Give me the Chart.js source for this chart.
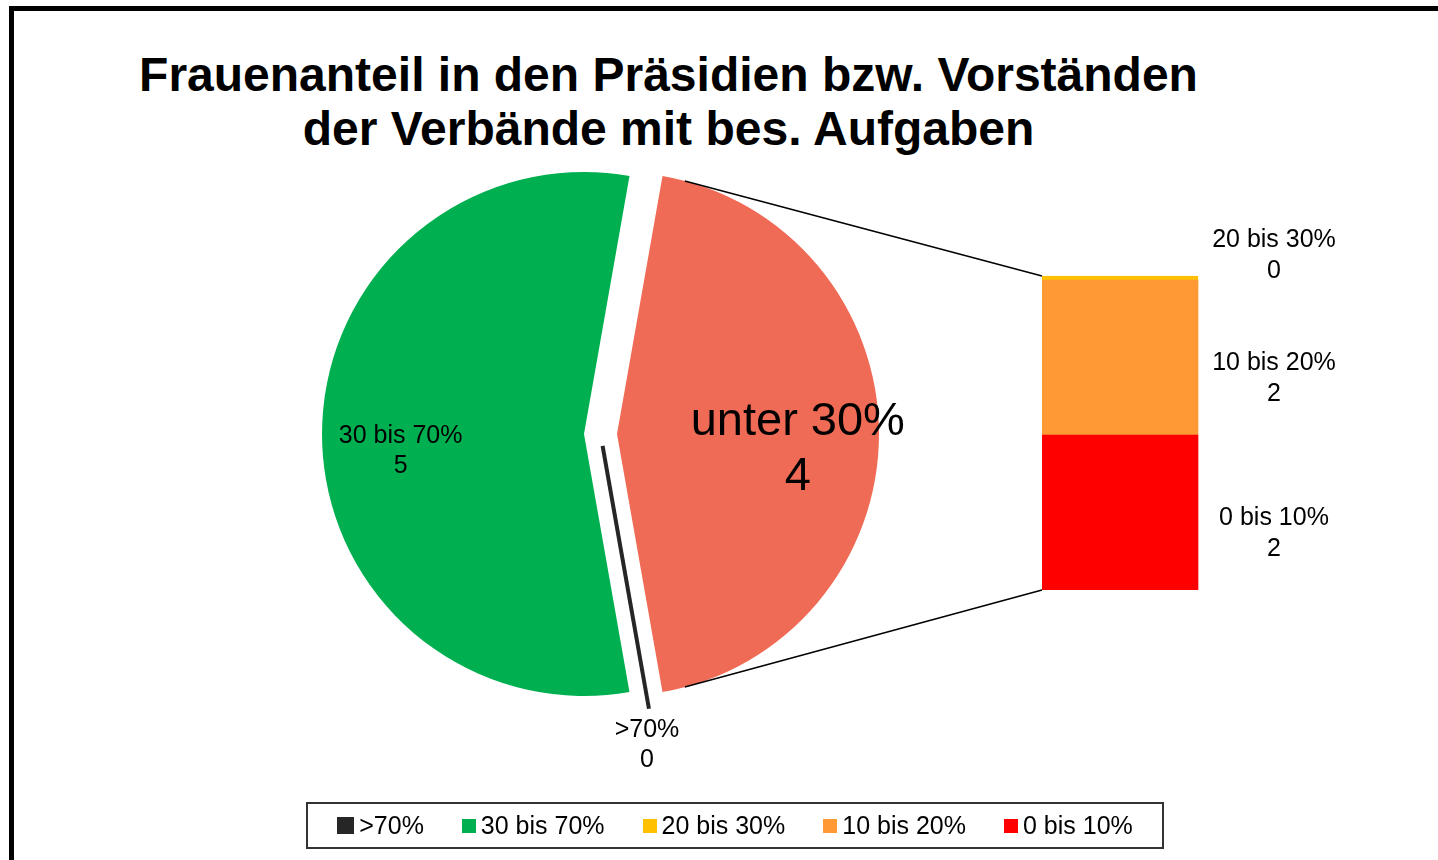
<!DOCTYPE html>
<html lang="de">
<head>
  <meta charset="UTF-8" />
  <title>Frauenanteil in den Präsidien</title>
  <script src="https://cdn.jsdelivr.net/npm/chart.js"></script>
  <style>
    body {
      margin: 0;
      width: 1438px;
      height: 860px;
      overflow: hidden;
      background: #fff;
      font-family: 'Liberation Sans', Arial, sans-serif;
      position: relative;
    }
    .frame {
      position: absolute;
      left: 9px;
      top: 6px;
      width: 1460px;
      height: 900px;
      border: 5px solid #000;
    }
    .title {
      position: absolute;
      left: 0;
      width: 1337px;
      top: 48px;
      text-align: center;
      font-weight: bold;
      font-size: 48px;
      line-height: 54px;
      color: #000;
    }
    canvas { position: absolute; }
    #pieChart { left: 0; top: 0; }
    #barChart { left: 1042px; top: 220px; }
    .legend {
      position: absolute;
      left: 306px;
      top: 802px;
      width: 854px;
      height: 43px;
      border: 2px solid #333;
      display: flex;
      justify-content: center;
      align-items: center;
      gap: 38px;
      font-size: 25px;
      color: #000;
    }
    .legend span.item { display: flex; align-items: center; }
    .legend i { display: inline-block; width: 14px; height: 14px; margin-right: 5px; }
  </style>
</head>
<body>
  <div class="frame"></div>
  <div class="title">Frauenanteil in den Präsidien bzw. Vorständen<br>der Verbände mit bes. Aufgaben</div>
  <canvas id="pieChart" width="1438" height="860"></canvas>
  <canvas id="barChart" width="316" height="370"></canvas>
  <div class="legend" id="legend"></div>

  <script>
    // pie: the "other" slice is split up in the bar on the right
    const pieLabels = ['>70%', '30 bis 70%', 'unter 30%'];
    const pieValues = [0, 5, 4];
    const pieColors = ['#262626', '#00B050', '#F06B55'];
    const OTHER = 'unter 30%';

    const barLabels = ['0 bis 10%', '10 bis 20%', '20 bis 30%'];
    const barValues = [2, 2, 0];
    const barColors = ['#FF0000', '#FF9933', '#FFC000'];

    const EXPLODE = 33;
    const SMALL = '25px "Liberation Sans", Arial, sans-serif';
    const BIG = '47px "Liberation Sans", Arial, sans-serif';

    function textBlock(ctx, lines, x, y, font, lh) {
      ctx.save();
      ctx.font = font;
      ctx.fillStyle = '#000';
      ctx.textAlign = 'center';
      ctx.textBaseline = 'middle';
      lines.forEach((t, k) => ctx.fillText(t, x, y + (k - (lines.length - 1) / 2) * lh));
      ctx.restore();
    }

    // labels next to the stacked bar
    const barLabelPlugin = {
      id: 'barLabels',
      afterDatasetsDraw(chart) {
        const ctx = chart.ctx;
        chart.data.datasets.forEach((ds, i) => {
          const bar = chart.getDatasetMeta(i).data[0];
          const x = bar.x + bar.width / 2 + 76;
          const y = ds.data[0] === 0 ? Math.min(bar.y, bar.base) - 20 : (bar.y + bar.base) / 2 + 21;
          textBlock(ctx, [ds.label, String(ds.data[0])], x, y, SMALL, 31);
        });
      }
    };

    const barChart = new Chart(document.getElementById('barChart'), {
      type: 'bar',
      data: {
        labels: [OTHER],
        datasets: barLabels.map((l, i) => ({
          label: l,
          data: [barValues[i]],
          backgroundColor: barColors[i],
          borderColor: barColors[i],
          borderWidth: barValues[i] === 0 ? 1 : 0,
          borderSkipped: false,
          minBarLength: barValues[i] === 0 ? 8 : 0,
          barPercentage: 1,
          categoryPercentage: 1,
          clip: false
        }))
      },
      options: {
        responsive: false,
        animation: false,
        events: [],
        layout: { padding: { top: 60, right: 160, bottom: 0, left: 0 } },
        scales: {
          x: { stacked: true, display: false },
          y: { stacked: true, display: false, min: 0, max: barValues.reduce((a, b) => a + b, 0) }
        },
        plugins: { legend: { display: false }, tooltip: { enabled: false } }
      },
      plugins: [barLabelPlugin]
    });

    // draws the arcs itself so the "other" slice can be pulled out
    const piePlugin = {
      id: 'pieOfBar',
      beforeDatasetDraw(chart, args) {
        const ctx = chart.ctx;
        const arcs = args.meta.data;
        const other = arcs[pieLabels.indexOf(OTHER)];
        const mid = (other.startAngle + other.endAngle) / 2;
        const sx = Math.cos(mid) * EXPLODE, sy = Math.sin(mid) * EXPLODE;
        arcs.forEach((arc, i) => {
          ctx.save();
          if (arc.endAngle - arc.startAngle === 0) {
            // empty slice: a dark line in the gap
            const a = arc.startAngle;
            const cx = arc.x + sx / 2, cy = arc.y + sy / 2;
            ctx.strokeStyle = pieColors[i];
            ctx.lineWidth = 4;
            ctx.beginPath();
            ctx.moveTo(cx + Math.cos(a) * 12, cy + Math.sin(a) * 12);
            ctx.lineTo(cx + Math.cos(a) * (arc.outerRadius + 17), cy + Math.sin(a) * (arc.outerRadius + 17));
            ctx.stroke();
          } else {
            if (arc === other) ctx.translate(sx, sy);
            arc.draw(ctx);
          }
          ctx.restore();
        });
        return false;
      },
      afterDraw(chart) {
        const ctx = chart.ctx;
        const arcs = chart.getDatasetMeta(0).data;
        const other = arcs[pieLabels.indexOf(OTHER)];
        const mid = (other.startAngle + other.endAngle) / 2;
        const sx = Math.cos(mid) * EXPLODE, sy = Math.sin(mid) * EXPLODE;
        const R = other.outerRadius;

        // connector lines to the bar
        const bc = barChart.canvas;
        const metas = barChart.data.datasets.map((d, i) => barChart.getDatasetMeta(i).data[0]);
        const topBar = metas[metas.length - 1], botBar = metas[0];
        const bx = bc.offsetLeft + topBar.x - topBar.width / 2;
        const bTop = bc.offsetTop + Math.min(topBar.y, topBar.base);
        const bBot = bc.offsetTop + botBar.base;
        const d5 = 5 * Math.PI / 180;
        const a1 = other.startAngle + d5, a2 = other.endAngle - d5;
        ctx.save();
        ctx.strokeStyle = '#000';
        ctx.lineWidth = 1.5;
        ctx.beginPath();
        ctx.moveTo(other.x + sx + Math.cos(a1) * R, other.y + sy + Math.sin(a1) * R);
        ctx.lineTo(bx, bTop);
        ctx.moveTo(other.x + sx + Math.cos(a2) * R, other.y + sy + Math.sin(a2) * R);
        ctx.lineTo(bx, bBot);
        ctx.stroke();
        ctx.restore();

        // data labels
        arcs.forEach((arc, i) => {
          const m = (arc.startAngle + arc.endAngle) / 2;
          const lines = [pieLabels[i], String(pieValues[i])];
          if (arc.endAngle - arc.startAngle === 0) {
            const a = arc.startAngle;
            const ex = arc.x + sx / 2 + Math.cos(a) * (R + 17);
            const ey = arc.y + sy / 2 + Math.sin(a) * (R + 17);
            textBlock(ctx, lines, ex - 2, ey + 36, SMALL, 30);
          } else if (arc === other) {
            textBlock(ctx, lines, arc.x + sx + Math.cos(m) * R * 0.69, arc.y + sy + Math.sin(m) * R * 0.69 + 16, BIG, 55);
          } else {
            textBlock(ctx, lines, arc.x + Math.cos(m) * R * 0.7, arc.y + Math.sin(m) * R * 0.7 + 17, SMALL, 30);
          }
        });
      }
    };

    new Chart(document.getElementById('pieChart'), {
      type: 'pie',
      data: {
        labels: pieLabels,
        datasets: [{
          data: pieValues,
          backgroundColor: pieColors,
          borderWidth: 0,
          hoverBorderWidth: 0,
          hoverOffset: 0
        }]
      },
      options: {
        responsive: false,
        animation: false,
        events: [],
        rotation: 170,
        layout: { padding: { left: 322, top: 172, right: 592, bottom: 164 } },
        plugins: { legend: { display: false }, tooltip: { enabled: false } }
      },
      plugins: [piePlugin]
    });

    // legend: pie classes without the split slice, then the bar classes top-down
    const legendLabels = pieLabels.filter(l => l !== OTHER).concat(barLabels.slice().reverse());
    const legendColors = pieColors.filter((c, i) => pieLabels[i] !== OTHER).concat(barColors.slice().reverse());
    document.getElementById('legend').innerHTML = legendLabels.map((l, i) =>
      `<span class="item"><i style="background:${legendColors[i]};${i === 0 ? 'width:17px;height:17px;' : ''}"></i>${l}</span>`
    ).join('');
  </script>
</body>
</html>
